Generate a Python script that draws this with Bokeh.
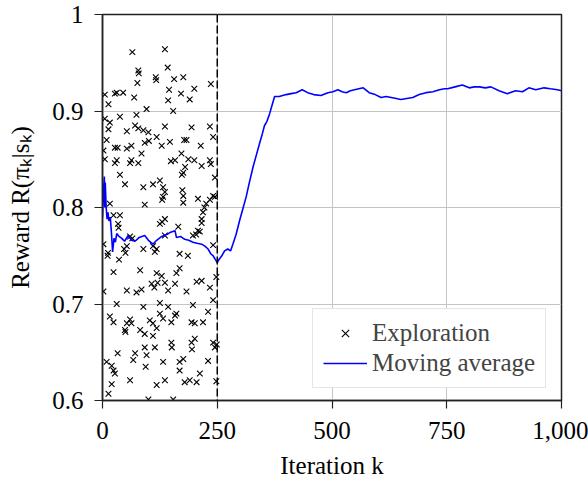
from bokeh.plotting import figure
from bokeh.models import Range1d, FixedTicker, Span, Legend, LegendItem, CustomJSTickFormatter
from bokeh.embed import file_html
from bokeh.resources import INLINE

# Exploration samples (iteration k, reward)
exp_k = [65,136,78,79,142,76,116,117,156,176,236,5,27,31,45,69,145,171,200,143,190,
         13,96,74,154,5,16,38,13,53,71,78,89,100,136,194,234,9,27,33,53,63,92,101,118,129,147,178,183,214,241,2,5,31,63,85,172,187,200,234,158,
         27,60,78,149,216,236,180,176,173,38,49,89,110,125,132,136,132,130,174,176,176,208,245,241,234,226,222,219,16,92,24,38,136,216,
         34,35,125,130,165,216,208,197,204,212,60,65,136,2,12,11,36,47,50,53,89,110,118,114,168,186,241,24,82,118,129,168,161,216,120,136,
         2,53,74,85,107,113,143,158,183,205,234,241,31,89,125,143,197,16,24,53,60,63,49,50,82,92,103,110,125,132,150,158,161,194,201,219,230,118,110,201,
         150,151,194,195,241,245,92,96,114,33,71,67,9,20,24,27,94,132,168,176,168,179,190,205,212,230,248,60,20,13,118,136,100,154,
         248,249,245]
exp_r = [0.961,0.964,0.942,0.939,0.945,0.929,0.935,0.932,0.933,0.935,0.928,0.917,0.918,0.919,0.919,0.914,0.922,0.918,0.923,0.911,0.912,
         0.907,0.902,0.896,0.900,0.892,0.888,0.894,0.881,0.879,0.885,0.882,0.880,0.878,0.884,0.883,0.884,0.870,0.862,0.862,0.861,0.864,0.867,0.869,0.873,0.864,0.868,0.870,0.870,0.864,0.873,0.859,0.850,0.849,0.849,0.856,0.856,0.850,0.849,0.849,0.849,
         0.846,0.846,0.846,0.848,0.843,0.845,0.842,0.836,0.834,0.834,0.824,0.821,0.824,0.828,0.821,0.816,0.811,0.808,0.818,0.812,0.805,0.809,0.831,0.812,0.808,0.804,0.800,0.795,0.804,0.803,0.792,0.792,0.788,0.788,
         0.783,0.779,0.783,0.785,0.780,0.784,0.776,0.771,0.772,0.775,0.770,0.768,0.771,0.762,0.753,0.750,0.746,0.757,0.753,0.760,0.757,0.760,0.757,0.754,0.752,0.750,0.761,0.733,0.735,0.732,0.729,0.737,0.732,0.724,0.722,0.722,
         0.713,0.714,0.712,0.715,0.721,0.717,0.714,0.721,0.713,0.723,0.717,0.704,0.700,0.697,0.701,0.697,0.699,0.687,0.681,0.680,0.684,0.680,0.673,0.671,0.673,0.669,0.683,0.680,0.690,0.685,0.681,0.688,0.690,0.681,0.680,0.681,0.692,0.675,0.667,0.664,
         0.660,0.655,0.660,0.653,0.660,0.655,0.655,0.647,0.655,0.649,0.649,0.642,0.640,0.636,0.631,0.628,0.635,0.640,0.640,0.643,0.631,0.619,0.621,0.619,0.628,0.641,0.620,0.621,0.617,0.607,0.616,0.621,0.601,0.601,
         0.728,0.658,0.811]

# Moving average
ma_k = [0,2,4,5,6,8,10,12,14,17,20,22,25,28,31,36,42,48,56,63,71,80,92,100,110,118,129,140,147,158,161,170,179,188,197,206,216,223,230,236,241,246,250,
        255,260,266,273,279,284,291,299,306,313,320,328,335,342,348,353,358,364,370,375,385,400,411,422,435,447,460,476,491,502,513,522,531,540,549,568,581,
        594,607,618,629,640,650,663,676,690,705,720,734,745,752,768,784,799,810,821,834,846,864,882,900,915,929,944,962,976,991,1000]
ma_r = [0.790,0.815,0.832,0.800,0.826,0.800,0.788,0.795,0.786,0.790,0.770,0.754,0.768,0.764,0.773,0.770,0.768,0.765,0.771,0.766,0.765,0.769,0.771,0.766,
        0.762,0.766,0.770,0.772,0.774,0.776,0.769,0.770,0.767,0.766,0.764,0.763,0.762,0.760,0.757,0.752,0.750,0.746,0.743,
        0.747,0.750,0.755,0.757,0.755,0.762,0.772,0.787,0.799,0.811,0.826,0.842,0.854,0.866,0.876,0.885,0.889,0.897,0.907,0.915,0.915,0.917,0.918,0.919,
        0.922,0.919,0.917,0.916,0.919,0.920,0.922,0.920,0.919,0.921,0.922,0.924,0.919,0.917,0.914,0.915,0.914,0.913,0.912,0.913,0.914,0.917,0.919,0.920,
        0.922,0.923,0.923,0.925,0.927,0.924,0.925,0.925,0.924,0.925,0.921,0.918,0.921,0.920,0.924,0.922,0.924,0.923,0.922,0.921]

x_ticks = [0, 250, 500, 750, 1000]
y_ticks = [0.6, 0.7, 0.8, 0.9, 1.0]
switch_k = 250

FONT = "Liberation Serif"
FS = "25px"

p = figure(width=588, height=481, output_backend="svg", toolbar_location=None,
           x_range=Range1d(0, 1000), y_range=Range1d(0.6, 1.0),
           min_border_left=102, min_border_right=27, min_border_top=14, min_border_bottom=81)
p.background_fill_color = "white"
p.border_fill_color = "white"
p.outline_line_color = "#222222"
p.outline_line_width = 1.5

for ax in (p.xaxis[0], p.yaxis[0]):
    ax.major_label_text_font = FONT
    ax.major_label_text_font_size = FS
    ax.axis_label_text_font = FONT
    ax.axis_label_text_font_size = "25px"
    ax.axis_label_text_font_style = "normal"
    ax.axis_line_color = "#222222"
    ax.axis_line_width = 1.5
    ax.major_tick_line_color = "#222222"
    ax.major_tick_line_width = 1.2
    ax.major_tick_out = 8
    ax.major_tick_in = 0
    ax.minor_tick_line_color = None
    ax.major_label_text_color = "black"
    ax.axis_label_text_color = "black"

p.xaxis.ticker = FixedTicker(ticks=x_ticks)
p.yaxis.ticker = FixedTicker(ticks=y_ticks)
p.xaxis.formatter = CustomJSTickFormatter(code="return tick >= 1000 ? tick.toLocaleString('en-US') : tick.toString();")
p.yaxis.formatter = CustomJSTickFormatter(code="return Math.abs(tick-1) < 1e-9 ? '1' : tick.toFixed(1);")
p.xaxis.major_label_standoff = 13
p.yaxis.major_label_standoff = 11
p.xaxis.axis_label = "Iteration k"
p.yaxis.axis_label = "Reward R(πₖ|sₖ)"
p.xaxis.axis_label_standoff = 10
p.yaxis.axis_label_standoff = 15

p.xgrid.ticker = FixedTicker(ticks=x_ticks)
p.ygrid.ticker = FixedTicker(ticks=y_ticks)
p.grid.grid_line_color = "#c4c4c4"
p.grid.grid_line_width = 1

sc = p.scatter(exp_k, exp_r, marker="x", size=8, line_color="black", line_width=1.1)
ln = p.line(ma_k, ma_r, line_color="#0000ff", line_width=1.6)

p.add_layout(Span(location=switch_k, dimension="height", line_color="black",
                  line_width=1.5, line_dash="8 3"))

legend = Legend(items=[LegendItem(label="Exploration", renderers=[sc]),
                       LegendItem(label="Moving average", renderers=[ln])],
                location=(210, 12))
legend.label_text_font = FONT
legend.label_text_font_size = "25px"
legend.glyph_width = 44
legend.glyph_height = 26
legend.label_height = 26
legend.label_standoff = 5
legend.spacing = 2
legend.padding = 10
legend.margin = 0
legend.border_line_color = "#cccccc"
legend.border_line_width = 1
legend.background_fill_alpha = 1
p.add_layout(legend, "center")

open("out.html", "w").write(file_html(p, INLINE))
